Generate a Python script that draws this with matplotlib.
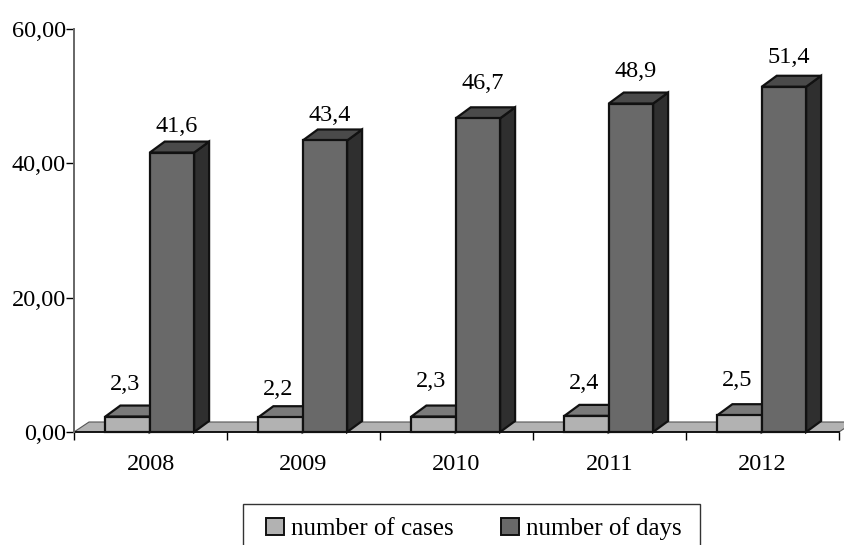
import matplotlib
matplotlib.use("Agg")
import matplotlib.pyplot as plt
from matplotlib.patches import Patch, Polygon, Rectangle
from matplotlib.transforms import IdentityTransform

plt.rcParams["font.family"] = ["Liberation Serif", "DejaVu Serif"]

years = ["2008", "2009", "2010", "2011", "2012"]
cases = [2.3, 2.2, 2.3, 2.4, 2.5]
days = [41.6, 43.4, 46.7, 48.9, 51.4]
y_ticks = [0, 20, 40, 60]
y_tick_labels = ["0,00", "20,00", "40,00", "60,00"]

# hand-placed label gaps above the bar fronts, in pixels
cases_gap = [32, 28, 35, 32, 35]
days_gap = [26, 25, 35, 32, 29]

W, H = 844, 545
LEFT, RIGHT, TOP, BOTTOM = 74, 839, 29, 432
DX, DY = 15, 11
BAR_W = 0.29
BAR_START = 0.205
FS = 17.5

LIGHT = "#b2b2b2"
LIGHT_TOP = "#7a7a7a"
DARK = "#696969"
DARK_TOP = "#4a4a4a"
DARK_SIDE = "#2f2f2f"
EDGE = "#111111"

fig = plt.figure(figsize=(W / 100, H / 100), dpi=100)
ax = fig.add_axes([LEFT / W, 1 - BOTTOM / H, (RIGHT - LEFT) / W, (BOTTOM - TOP) / H])
ax.set_xlim(0, len(years))
ax.set_ylim(0, 60)
ax.patch.set_alpha(0)


def to_px(x, y):
    return ax.transData.transform((x, y))


def px_poly(points, color, z, lw=1.6, edge=EDGE):
    ax.add_patch(Polygon(points, closed=True, facecolor=color, edgecolor=edge, linewidth=lw,
                         joinstyle="miter", transform=IdentityTransform(), zorder=z, clip_on=False))


def draw_box(x0, value, front, top, side, z):
    x1 = x0 + BAR_W
    rb = to_px(x1, 0)
    lt = to_px(x0, value)
    rt = to_px(x1, value)
    px_poly([rb, rb + (DX, DY), rt + (DX, DY), rt], side, z)
    px_poly([lt, rt, rt + (DX, DY), lt + (DX, DY)], top, z)
    ax.bar(x0, value, width=BAR_W, align="edge", color=front, edgecolor=EDGE, linewidth=1.6,
           zorder=z + 0.1, clip_on=False)


# floor
a = to_px(0, 0)
b = to_px(len(years), 0)
px_poly([a, b, b + (DX, 10), a + (DX, 10)], LIGHT, 1, lw=0.8, edge="#555555")

for i in range(len(years)):
    draw_box(i + BAR_START, cases[i], LIGHT, LIGHT_TOP, LIGHT, 2 + i)
    draw_box(i + BAR_START + BAR_W, days[i], DARK, DARK_TOP, DARK_SIDE, 2.5 + i)
    ax.annotate(f"{cases[i]:.1f}".replace(".", ","), (i + BAR_START, cases[i]),
                xytext=(20 * 0.72, cases_gap[i] * 0.72), textcoords="offset points",
                ha="center", va="center", fontsize=FS, color="black", zorder=20)
    ax.annotate(f"{days[i]:.1f}".replace(".", ","), (i + BAR_START + BAR_W, days[i]),
                xytext=(27 * 0.72, days_gap[i] * 0.72), textcoords="offset points",
                ha="center", va="center", fontsize=FS, color="black", zorder=20)

for name in ["top", "right"]:
    ax.spines[name].set_visible(False)
ax.spines["left"].set_color("#666666")
ax.spines["left"].set_linewidth(1.4)
ax.spines["bottom"].set_color("black")
ax.spines["bottom"].set_linewidth(1.2)
ax.spines["bottom"].set_zorder(1.5)

ax.set_yticks(y_ticks)
ax.set_yticklabels(y_tick_labels, fontsize=FS)
ax.set_xticks(range(len(years) + 1))
ax.set_xticklabels([])
ax.tick_params(axis="y", length=5.5, width=1, pad=0.5, color="black")
ax.tick_params(axis="x", length=6, width=1, color="black")
ax.set_xticks([i + 0.5 for i in range(len(years))], minor=True)
ax.set_xticklabels(years, minor=True, fontsize=FS)
ax.tick_params(axis="x", which="minor", length=0, pad=15.7)

fig.add_artist(Rectangle((243 / W, 1 - 570 / H), 457 / W, 66 / H, transform=fig.transFigure,
                         facecolor="white", edgecolor="#333333", linewidth=1.0))
handles = [Patch(facecolor=LIGHT, edgecolor=EDGE, linewidth=1.4, label="number of cases"),
           Patch(facecolor=DARK, edgecolor=EDGE, linewidth=1.4, label="number of days")]
leg = fig.legend(handles=handles, ncols=2, loc="center", bbox_to_anchor=(474 / W, 1 - 529 / H),
                 fontsize=18, frameon=False,
                 handlelength=0.72, handleheight=0.68, handletextpad=0.28, columnspacing=1.9,
                 borderpad=0, borderaxespad=0)

fig.savefig("out.png", dpi=100)
